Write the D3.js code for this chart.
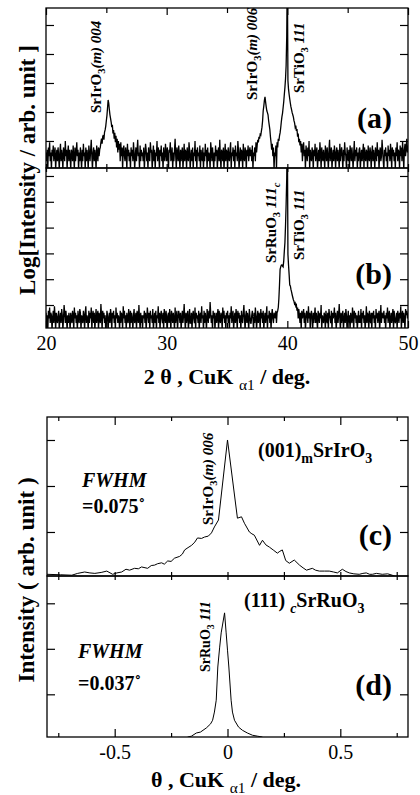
<!DOCTYPE html>
<html lang="en">
<head>
<meta charset="utf-8">
<title>SrIrO3 / SrRuO3 on SrTiO3(111) - XRD</title>
<style>
  body { margin: 0; background: #fff; }
  text { font-family: "Liberation Serif", "Times New Roman", serif; fill: #000; }
</style>
</head>
<body>
<script src="https://cdn.jsdelivr.net/npm/d3@7/dist/d3.min.js"></script>
<script>

// 2theta-theta scans, counts every 0.05 deg from 20 to 50 deg
var scanStart = 20, scanStep = 0.05;

// (a) SrIrO3(m) film, one row per degree
var countsA = [
  4, 2, 5, 1, 6, 3, 9, 2, 4, 1, 5, 3, 7, 2, 4, 6, 1, 3, 5, 2,
  6, 3, 1, 4, 8, 2, 5, 3, 1, 6, 4, 2, 10, 3, 5, 1, 4, 7, 2, 5,
  3, 1, 5, 4, 2, 7, 3, 1, 6, 2, 4, 9, 3, 5, 1, 4, 2, 6, 3, 1,
  5, 2, 8, 3, 4, 1, 6, 2, 5, 3, 1, 7, 4, 2, 5, 11, 3, 1, 4, 6,
  2, 5, 3, 1, 7, 4, 2, 6, 3, 5, 6, 9, 12, 8, 14, 16, 11, 20, 24, 32,
  50, 75, 140, 260, 200, 120, 80, 60, 45, 30, 36, 18, 24, 12, 19, 9, 15, 6, 12, 4,
  10, 5, 8, 2, 9, 3, 6, 1, 5, 7, 3, 2, 6, 4, 1, 8, 3, 5, 2, 4,
  1, 6, 3, 5, 2, 9, 4, 1, 3, 6, 2, 5, 11, 3, 4, 1, 7, 2, 5, 3,
  4, 2, 6, 1, 3, 8, 5, 2, 4, 1, 6, 3, 2, 9, 4, 5, 1, 3, 7, 2,
  5, 1, 4, 3, 10, 2, 6, 4, 1, 5, 3, 7, 2, 4, 1, 6, 3, 2, 8, 4,
  2, 6, 3, 1, 5, 4, 9, 2, 3, 6, 1, 4, 2, 5, 12, 3, 1, 6, 4, 2,
  7, 3, 1, 5, 2, 4, 6, 1, 3, 8, 2, 5, 4, 1, 6, 3, 2, 9, 5, 1,
  3, 5, 2, 6, 1, 4, 3, 10, 2, 5, 1, 6, 3, 4, 2, 7, 1, 5, 3, 2,
  6, 1, 4, 2, 8, 3, 5, 1, 6, 2, 4, 3, 1, 9, 5, 2, 6, 3, 1, 4,
  2, 7, 3, 5, 1, 4, 6, 2, 11, 3, 1, 5, 4, 2, 6, 1, 3, 8, 2, 5,
  4, 1, 6, 3, 2, 5, 9, 1, 4, 3, 6, 2, 5, 1, 7, 3, 4, 2, 10, 5,
  1, 3, 6, 2, 5, 4, 1, 8, 3, 2, 6, 4, 1, 5, 3, 7, 2, 4, 6, 3,
  5, 2, 7, 1, 4, 3, 6, 2, 9, 4, 7, 11, 9, 14, 12, 17, 16, 22, 30, 50,
  110, 160, 250, 330, 220, 150, 110, 95, 80, 50, 35, 25, 14, 9, 5, 8, 3, 6, 1, 4,
  3, 7, 1, 9, 6, 12, 10, 15, 19, 28, 45, 68, 90, 140, 220, 400, 700, 1400, 4000, 40000,
  1e7, 1200, 600, 400, 280, 200, 150, 120, 95, 80, 68, 50, 42, 30, 34, 22, 26, 14, 18, 9,
  12, 7, 10, 4, 8, 2, 6, 9, 3, 5, 1, 7, 4, 2, 6, 3, 10, 1, 5, 3,
  2, 6, 4, 1, 5, 3, 8, 2, 4, 6, 1, 3, 5, 2, 9, 4, 1, 6, 3, 2,
  5, 3, 1, 7, 4, 2, 6, 3, 1, 5, 11, 2, 4, 6, 1, 3, 5, 2, 7, 4,
  1, 4, 6, 2, 5, 3, 1, 8, 2, 4, 6, 3, 1, 5, 2, 9, 4, 3, 1, 6,
  3, 2, 5, 1, 7, 4, 2, 6, 3, 1, 4, 10, 2, 5, 3, 6, 1, 4, 2, 5,
  6, 1, 3, 5, 2, 4, 8, 1, 6, 3, 2, 5, 4, 1, 7, 3, 2, 6, 4, 1,
  4, 7, 2, 5, 3, 1, 6, 4, 2, 9, 3, 5, 1, 4, 6, 2, 3, 11, 5, 2,
  1, 5, 3, 6, 2, 4, 1, 7, 3, 5, 2, 8, 4, 1, 6, 3, 5, 2, 4, 1,
  6, 3, 9, 2, 5, 4, 1, 7, 3, 6, 2, 10, 4, 1, 5, 8, 3, 6, 12, 4,
  7
];

// (b) SrRuO3 film, one row per degree
var countsB = [
  5, 2, 4, 1, 6, 3, 8, 2, 5, 4, 1, 3, 6, 2, 9, 4, 1, 5, 3, 2,
  4, 6, 1, 3, 5, 2, 7, 4, 1, 3, 10, 5, 2, 6, 3, 1, 4, 2, 5, 3,
  1, 5, 3, 2, 6, 4, 1, 8, 3, 5, 2, 4, 1, 6, 3, 2, 7, 5, 1, 4,
  3, 2, 6, 4, 1, 5, 9, 2, 4, 3, 1, 6, 2, 5, 3, 8, 1, 4, 6, 2,
  5, 1, 3, 7, 2, 4, 6, 1, 5, 3, 2, 11, 4, 1, 6, 3, 5, 2, 4, 1,
  2, 6, 4, 1, 3, 5, 2, 7, 4, 1, 5, 3, 6, 2, 4, 1, 8, 3, 5, 2,
  4, 3, 1, 6, 2, 5, 4, 1, 9, 3, 6, 2, 4, 1, 5, 3, 2, 7, 4, 1,
  6, 2, 5, 3, 1, 4, 7, 2, 3, 5, 1, 6, 4, 2, 10, 3, 1, 5, 2, 4,
  1, 4, 3, 6, 2, 5, 1, 3, 8, 4, 2, 5, 1, 6, 3, 4, 2, 7, 1, 3,
  5, 2, 6, 1, 4, 3, 9, 2, 5, 1, 4, 6, 3, 2, 5, 1, 7, 4, 2, 6,
  3, 1, 4, 5, 2, 7, 3, 1, 6, 4, 2, 5, 3, 1, 8, 2, 4, 6, 1, 3,
  6, 4, 2, 5, 1, 3, 6, 2, 4, 11, 3, 1, 5, 2, 4, 6, 1, 3, 7, 2,
  2, 5, 1, 4, 6, 3, 2, 8, 1, 5, 3, 4, 2, 6, 1, 4, 5, 2, 9, 3,
  4, 1, 6, 2, 5, 3, 1, 7, 4, 2, 6, 3, 13, 5, 2, 4, 1, 6, 3, 5,
  1, 3, 5, 2, 4, 7, 1, 6, 3, 2, 5, 4, 1, 8, 3, 6, 2, 4, 1, 5,
  3, 6, 2, 4, 1, 5, 3, 9, 2, 4, 6, 1, 3, 5, 2, 7, 4, 1, 6, 3,
  5, 2, 4, 1, 6, 3, 2, 5, 10, 3, 1, 4, 6, 2, 5, 3, 1, 7, 4, 2,
  2, 4, 6, 3, 1, 5, 2, 8, 4, 1, 3, 6, 2, 5, 4, 1, 7, 3, 5, 2,
  6, 1, 3, 5, 2, 4, 9, 1, 4, 3, 6, 2, 5, 1, 4, 7, 3, 2, 5, 4,
  3, 6, 2, 5, 6, 8, 18, 60, 240, 300, 350, 360, 320, 300, 500, 1200, 2600, 12000, 80000, 8e5,
  1e8, 900, 350, 150, 60, 55, 40, 32, 25, 20, 16, 14, 11, 12, 9, 10, 6, 8, 3, 7,
  4, 2, 5, 1, 6, 3, 4, 7, 2, 5, 1, 3, 6, 4, 2, 9, 3, 5, 1, 4,
  6, 3, 1, 5, 2, 4, 8, 2, 5, 3, 1, 6, 4, 2, 5, 3, 10, 1, 4, 3,
  2, 5, 4, 1, 6, 3, 2, 5, 1, 7, 4, 3, 2, 6, 1, 5, 3, 4, 8, 2,
  5, 1, 3, 6, 2, 4, 11, 3, 1, 5, 2, 4, 6, 1, 3, 5, 2, 7, 4, 1,
  3, 6, 2, 4, 1, 5, 3, 2, 8, 4, 1, 6, 3, 5, 2, 4, 1, 3, 6, 2,
  4, 2, 7, 1, 5, 3, 6, 2, 4, 1, 3, 9, 2, 5, 4, 1, 6, 3, 2, 5,
  1, 5, 3, 6, 2, 4, 1, 7, 3, 5, 2, 4, 6, 1, 3, 10, 2, 5, 4, 3,
  6, 2, 4, 1, 5, 3, 8, 2, 4, 6, 1, 3, 5, 2, 4, 7, 1, 6, 3, 2,
  3, 5, 1, 6, 4, 2, 5, 3, 9, 1, 4, 6, 2, 5, 3, 1, 7, 4, 6, 3,
  5
];

// rocking curves (theta offset in deg, intensity in tick units)
var thetaC = [-0.80, -0.74, -0.69, -0.664, -0.633, -0.61, -0.588, -0.56, -0.535, -0.509,
  -0.49, -0.469, -0.45, -0.434, -0.412, -0.395, -0.381, -0.354, -0.338, -0.323,
  -0.31, -0.292, -0.28, -0.265, -0.25, -0.235, -0.212, -0.20, -0.19, -0.175,
  -0.159, -0.145, -0.133, -0.115, -0.102, -0.085, -0.071, -0.058, -0.04, 0.0,
  0.044, 0.062, 0.075, 0.097, 0.108, 0.119, 0.142, 0.155, 0.17, 0.186,
  0.205, 0.221, 0.232, 0.243, 0.258, 0.274, 0.296, 0.319, 0.335, 0.35,
  0.376, 0.39, 0.407, 0.43, 0.451, 0.47, 0.487, 0.509, 0.525, 0.54,
  0.56, 0.584, 0.60, 0.615, 0.63, 0.642, 0.66, 0.686, 0.71, 0.73, 0.748];
var intC = [0.08, 0.07, 0.06, 0.10, 0.13, 0.11, 0.10, 0.12, 0.15, 0.08,
  0.11, 0.13, 0.19, 0.17, 0.21, 0.20, 0.24, 0.21, 0.27, 0.28,
  0.31, 0.33, 0.30, 0.37, 0.36, 0.43, 0.47, 0.52, 0.61, 0.66,
  0.71, 0.78, 0.87, 0.86, 0.89, 0.91, 0.98, 1.11, 1.26, 3.00,
  1.30, 1.33, 1.19, 1.00, 0.96, 0.93, 0.71, 0.82, 0.72, 0.67,
  0.60, 0.54, 0.58, 0.61, 0.38, 0.32, 0.39, 0.28, 0.22, 0.17,
  0.21, 0.17, 0.15, 0.15, 0.15, 0.13, 0.11, 0.19, 0.14, 0.11,
  0.09, 0.08, 0.10, 0.11, 0.08, 0.08, 0.10, 0.08, 0.09, 0.06, 0.02];

var thetaD = [-0.177, -0.16, -0.138, -0.12, -0.094, -0.075, -0.066, -0.058, -0.05, -0.043,
  -0.035, -0.028, -0.013, -0.006, 0.0, 0.006, 0.016, 0.022, 0.031, 0.049,
  0.066, 0.088, 0.111, 0.133, 0.155];
var intD = [0.06, 0.08, 0.15, 0.17, 0.26, 0.35, 0.43, 0.61, 0.87, 1.60,
  2.02, 2.35, 2.79, 2.35, 1.97, 1.60, 0.87, 0.61, 0.43, 0.28,
  0.21, 0.15, 0.10, 0.08, 0.06];

var xTicks2t = [20, 30, 40, 50], xMinor2t = [25, 35, 45];
var xTicksTh = [-0.5, 0, 0.5], xMinorTh = [-0.75, -0.25, 0.25, 0.75];
var logTicksA = [1e1, 1e2, 1e3, 1e4, 1e5];
var logTicksB = [1e1, 1e2, 1e3, 1e4, 1e5, 1e6];
var linTicks = [1, 2, 3];

// ---- layout
var width = 420, height = 795;
var svg = d3.select("body").append("svg").attr("width", width).attr("height", height)
  .attr("font-family", "Liberation Serif, Times New Roman, serif");

var x2t = d3.scaleLinear().domain([20, 50]).range([46, 408]);
var yA = d3.scaleLog().domain([1.17, 3.855e5]).range([168, 8]);
var yB = d3.scaleLog().domain([1.285, 2.04e6]).range([328, 168]);
var xTh = d3.scaleLinear().domain([-0.8, 0.8]).range([47, 408]);
var yC = d3.scaleLinear().domain([0.043, 3.5]).range([576, 417]);
var yD = d3.scaleLinear().domain([0.062, 3.6]).range([737, 576]);

function clip(id, x, y) {
  svg.append("clipPath").attr("id", id).append("rect")
    .attr("x", x.range()[0]).attr("y", y.range()[1])
    .attr("width", x.range()[1] - x.range()[0])
    .attr("height", y.range()[0] - y.range()[1]);
}

function axis(gen, tx, ty) {
  var g = svg.append("g").attr("transform", "translate(" + tx + "," + ty + ")").call(gen);
  g.select(".domain").remove();
  g.selectAll("line").attr("stroke", "#000").attr("stroke-width", 1.2);
  g.attr("font-family", null).attr("font-size", null);
  return g;
}

function frame(x, y) {
  svg.append("rect")
    .attr("x", x.range()[0]).attr("y", y.range()[1])
    .attr("width", x.range()[1] - x.range()[0])
    .attr("height", y.range()[0] - y.range()[1])
    .attr("fill", "none").attr("stroke", "#000").attr("stroke-width", 1.3);
}

function yTicks(x, y, values) {
  axis(d3.axisLeft(y).tickValues(values).tickSize(-8).tickFormat(""), x.range()[0], 0);
  axis(d3.axisRight(y).tickValues(values).tickSize(-8).tickFormat(""), x.range()[1], 0);
}

// ---- data lines
clip("clipA", x2t, yA);
clip("clipB", x2t, yB);
clip("clipC", xTh, yC);
clip("clipD", xTh, yD);

function scanLine(y) {
  return d3.line()
    .x(function (d, i) { return x2t(scanStart + i * scanStep); })
    .y(function (d) { return y(d); });
}

svg.append("path").datum(countsA).attr("clip-path", "url(#clipA)")
  .attr("d", scanLine(yA)).attr("fill", "none").attr("stroke", "#000").attr("stroke-width", 1.3);
svg.append("path").datum(countsB).attr("clip-path", "url(#clipB)")
  .attr("d", scanLine(yB)).attr("fill", "none").attr("stroke", "#000").attr("stroke-width", 1.3);

var lineC = d3.line().x(function (d, i) { return xTh(thetaC[i]); }).y(function (d) { return yC(d); });
var lineD = d3.line().x(function (d, i) { return xTh(thetaD[i]); }).y(function (d) { return yD(d); });
svg.append("path").datum(intC).attr("clip-path", "url(#clipC)")
  .attr("d", lineC).attr("fill", "none").attr("stroke", "#000").attr("stroke-width", 1);
svg.append("path").datum(intD).attr("clip-path", "url(#clipD)")
  .attr("d", lineD).attr("fill", "none").attr("stroke", "#000").attr("stroke-width", 1);

// ---- frames and ticks (all inward)
frame(x2t, yA); frame(x2t, yB); frame(xTh, yC); frame(xTh, yD);

// top pair
axis(d3.axisTop(x2t).tickValues(xTicks2t).tickSize(-7).tickFormat(""), 0, 8);
axis(d3.axisTop(x2t).tickValues(xMinor2t).tickSize(-5).tickFormat(""), 0, 8);
axis(d3.axisTop(x2t).tickValues(xTicks2t.concat(xMinor2t)).tickSize(4).tickFormat(""), 0, 168);
axis(d3.axisBottom(x2t).tickValues(xTicks2t.concat(xMinor2t)).tickSize(4).tickFormat(""), 0, 168);
axis(d3.axisBottom(x2t).tickValues(xMinor2t).tickSize(-5).tickFormat(""), 0, 328);
axis(d3.axisBottom(x2t).tickValues(xTicks2t).tickSize(-7).tickPadding(8)
  .tickFormat(function (d) { return String(d); }), 0, 328)
  .selectAll("text").attr("font-size", 20);
yTicks(x2t, yA, logTicksA);
yTicks(x2t, yB, logTicksB);

// bottom pair
axis(d3.axisTop(xTh).tickValues(xTicksTh).tickSize(-8).tickFormat(""), 0, 417);
axis(d3.axisTop(xTh).tickValues(xMinorTh).tickSize(-4).tickFormat(""), 0, 417);
axis(d3.axisTop(xTh).tickValues(xTicksTh.concat(xMinorTh)).tickSize(4).tickFormat(""), 0, 576);
axis(d3.axisBottom(xTh).tickValues(xTicksTh.concat(xMinorTh)).tickSize(4).tickFormat(""), 0, 576);
axis(d3.axisBottom(xTh).tickValues(xMinorTh).tickSize(-4).tickFormat(""), 0, 737);
axis(d3.axisBottom(xTh).tickValues(xTicksTh).tickSize(-8).tickPadding(8)
  .tickFormat(function (d) { return String(d); }), 0, 737)
  .selectAll("text").attr("font-size", 20);
yTicks(xTh, yC, linTicks);
yTicks(xTh, yD, linTicks);

// ---- text with sub-scripts / italics
// parts: [text, flags] where flags may contain "s" (subscript), "i" (italic), "n" (normal weight)
function rich(parts, size, transform, anchor) {
  var t = svg.append("text").attr("transform", transform)
    .attr("font-size", size).attr("font-weight", "bold")
    .attr("text-anchor", anchor || "start");
  var shift = 0;
  parts.forEach(function (p) {
    var f = p[1] || "";
    var sub = f.indexOf("s") >= 0;
    var target = sub ? size * 0.28 : 0;
    var s = t.append("tspan").text(p[0]).attr("dy", target - shift);
    shift = target;
    if (sub) s.attr("font-size", size * 0.7);
    if (f.indexOf("i") >= 0) s.attr("font-style", "italic");
    if (f.indexOf("n") >= 0) s.attr("font-weight", "normal");
  });
  return t;
}
function rot(x, y) { return "translate(" + x + "," + y + ") rotate(-90)"; }
function at(x, y) { return "translate(" + x + "," + y + ")"; }

// axis titles
rich([["Log[Intensity / arb. unit ]"]], 23, rot(35, 170), "middle");
rich([["Intensity ( arb. unit )"]], 23, rot(34, 580), "middle");
rich([["2 \u03b8 , CuK "], ["\u03b11", "sn"], [" / deg."]], 22, at(227, 384), "middle");
rich([["\u03b8 , CuK "], ["\u03b11", "sn"], [" / deg."]], 22, at(226, 787), "middle");

// peak labels
rich([["SrIrO"], ["3", "s"], ["(m) 004", "i"]], 15, rot(101, 113));
rich([["SrIrO"], ["3", "s"], ["(m) 006", "i"]], 15, rot(257, 100));
rich([["SrTiO"], ["3", "s"], [" "], ["111", "i"]], 15, rot(304, 93));
rich([["SrRuO"], ["3", "s"], [" "], ["111", "i"], ["c", "si"]], 15, rot(276, 263));
rich([["SrTiO"], ["3", "s"], [" "], ["111", "i"]], 15, rot(304, 260));
rich([["SrIrO"], ["3", "s"], ["(m) 006", "i"]], 15, rot(213, 525));
rich([["SrRuO"], ["3", "s"], [" "], ["111", "i"]], 14, rot(210, 672));

// panel notes
rich([["(001)"], ["m", "s"], ["SrIrO"], ["3", "s"]], 20, at(258, 457));
rich([["(111) "], ["c", "si"], ["SrRuO"], ["3", "s"]], 20, at(244, 607));
rich([["FWHM", "i"]], 20, at(82, 487));
rich([["=0.075\u02da"]], 20, at(82, 513));
rich([["FWHM", "i"]], 20, at(78, 658));
rich([["=0.037\u02da"]], 20, at(78, 690));

rich([["(a)"]], 30, at(392, 128), "end");
rich([["(b)"]], 30, at(392, 284), "end");
rich([["(c)"]], 30, at(392, 545), "end");
rich([["(d)"]], 30, at(392, 695), "end");

</script>
</body>
</html>
